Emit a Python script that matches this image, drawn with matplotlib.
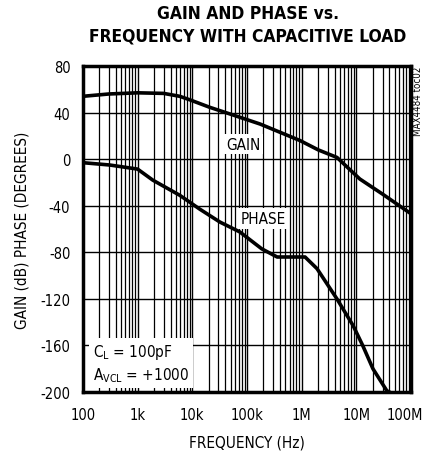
import numpy as np
import matplotlib.pyplot as plt
from matplotlib.ticker import LogLocator, NullFormatter
from matplotlib.transforms import ScaledTranslation

plt.rcParams['font.family'] = ['DejaVu Sans']
plt.rcParams['font.stretch'] = 'condensed'

# curvas
gain_f = [100, 300, 1e3, 3e3, 5.9e3, 9e3, 2.1e4, 4.9e4, 1.73e5, 9.3e5, 2e6, 4.4e6, 1.15e7, 3e7, 1e8]
gain_db = [54, 56, 57, 56.5, 54, 51, 44.5, 38.8, 30.2, 16, 8, 1.5, -17, -30, -47]

phase_f = [100, 310, 1e3, 1.9e3, 5.9e3, 1.38e4, 3.2e4, 7.4e4, 1.86e5, 3.55e5, 1.15e6, 1.9e6, 4.4e6, 8.7e6, 1.3e7, 2e7, 3.6e7, 4.1e7]
phase_deg = [-3, -5, -8.5, -18, -31, -43, -54, -62.5, -77, -84, -84, -94, -120, -143, -160, -180, -199, -200]

xticks = [100, 1e3, 1e4, 1e5, 1e6, 1e7, 1e8]
xlabels = ['100', '1k', '10k', '100k', '1M', '10M', '100M']
yticks = [80, 40, 0, -40, -80, -120, -160, -200]

fig = plt.figure(figsize=(4.27, 4.56), dpi=100)
ax = fig.add_axes([0.194, 0.138, 0.769, 0.715])

ax.plot(gain_f, gain_db, color='black', lw=2.6, solid_capstyle='butt', zorder=3)
ax.plot(phase_f, phase_deg, color='black', lw=2.6, solid_capstyle='butt', zorder=3)

ax.set_xscale('log')
ax.set_xlim(100, 1e8)
ax.set_ylim(-200, 80)
ax.set_xticks(xticks)
ax.set_xticklabels(xlabels)
ax.set_yticks(yticks)
ax.set_yticklabels([str(v) for v in yticks])
ax.xaxis.set_minor_locator(LogLocator(base=10, subs=np.arange(2, 10), numticks=100))
ax.xaxis.set_minor_formatter(NullFormatter())
ax.tick_params(which='both', length=0, labelsize=10.5)
ax.tick_params(axis='x', pad=11)
ax.tick_params(axis='y', pad=9)
ax.grid(which='major', color='black', lw=1.0)
ax.grid(which='minor', axis='x', color='black', lw=0.9)
for s in ax.spines.values():
    s.set_linewidth(2.5)

# la etiqueta 100M se corre un poco a la izquierda para que no se corte
last = ax.get_xticklabels()[-1]
last.set_transform(last.get_transform() + ScaledTranslation(-5 / 72, 0, fig.dpi_scale_trans))

ax.set_xlabel('FREQUENCY (Hz)', fontsize=11, labelpad=9)
ax.set_ylabel('GAIN (dB) PHASE (DEGREES)', fontsize=11, labelpad=8)

fig.text(0.58, 0.945, 'GAIN AND PHASE vs.\nFREQUENCY WITH CAPACITIVE LOAD',
         ha='center', va='center', fontsize=12.5, fontweight='bold', linespacing=1.3)

box = dict(facecolor='white', edgecolor='none', pad=2)
ax.text(8.4e4, 13, 'GAIN', fontsize=11, ha='center', va='center', bbox=box, zorder=4)
ax.text(1.95e5, -51, 'PHASE', fontsize=11, ha='center', va='center', bbox=box, zorder=4)
ax.text(0.03, 0.025, '$\\mathregular{C_L}$ = 100pF\n$\\mathregular{A_{VCL}}$ = +1000', transform=ax.transAxes,
        fontsize=11, ha='left', va='bottom', linespacing=1.3,
        bbox=dict(facecolor='white', edgecolor='none', pad=3), zorder=4)

fig.text(0.98, 0.853, 'MAX4484 toc02', rotation=90, fontsize=7, ha='center', va='top')

fig.savefig('out.png', dpi=100)
